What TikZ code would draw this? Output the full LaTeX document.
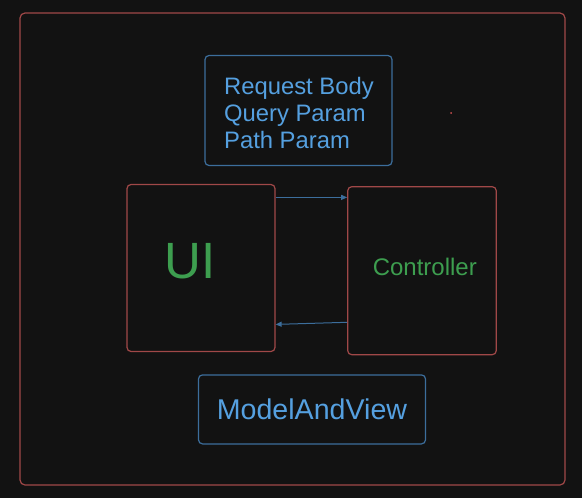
\documentclass[tikz,border=0pt]{standalone}
\usepackage{fontspec}
\setmainfont{Liberation Sans}
\usetikzlibrary{arrows.meta}
\definecolor{bgdark}{HTML}{121212}
\definecolor{boxred}{HTML}{A04848}
\definecolor{boxblue}{HTML}{3C6E9C}
\definecolor{textblue}{HTML}{55A0E0}
\definecolor{textgreen}{HTML}{3D9E4F}
\definecolor{speckred}{HTML}{D05050}

\begin{document}
\begin{tikzpicture}[x=1pt,y=-1pt,
  redbox/.style={draw=boxred,line width=1.2pt,rounded corners=4pt},
  bluebox/.style={draw=boxblue,line width=1.2pt,rounded corners=4pt},
  flow/.style={draw=boxblue,line width=1pt,-{Triangle[length=6pt,width=5pt]}},
  lbl/.style={text=textblue,font=\fontsize{23.8}{27}\selectfont,inner sep=0pt,anchor=base west}]
\fill[bgdark] (0,0) rectangle (582,498);
\node[redbox,rounded corners=5pt,minimum width=545pt,minimum height=472pt] (frame) at (292.5,249) {};
\node[bluebox,minimum width=187pt,minimum height=110pt] (params) at (298.5,110.5) {};
\foreach \txt [count=\i] in {Request Body,Query Param,Path Param}
  \node[lbl] (p\i) at (224,{67.3+27*\i}) {\txt};
\node[redbox,minimum width=148pt,minimum height=167pt] (ui) at (201,268) {};
\node[text=textgreen,font=\fontsize{51}{51}\selectfont,inner sep=0pt,anchor=base west]
  (uitext) at ([xshift=-37pt,yshift=-10.7pt]ui.center) {UI};
\node[redbox,minimum width=148.5pt,minimum height=168pt] (ctrl) at (422,270.7) {};
\node[lbl,text=textgreen,font=\fontsize{24}{24}\selectfont] (ctrltext) at (372.6,275) {Controller};
\node[bluebox,minimum width=227pt,minimum height=69pt,text=textblue,
  font=\fontsize{28.6}{28.6}\selectfont] (mav) at (312,409.4) {ModelAndView};
\draw[flow] ([yshift=-13.5pt]ui.north east) -- ([yshift=-11.3pt]ctrl.north west);
\draw[flow] ([yshift=33pt]ctrl.south west) -- ([yshift=27.7pt]ui.south east);
\coordinate (speck) at (451,113);
\fill[speckred] (speck) circle (1pt);
\end{tikzpicture}
\end{document}
